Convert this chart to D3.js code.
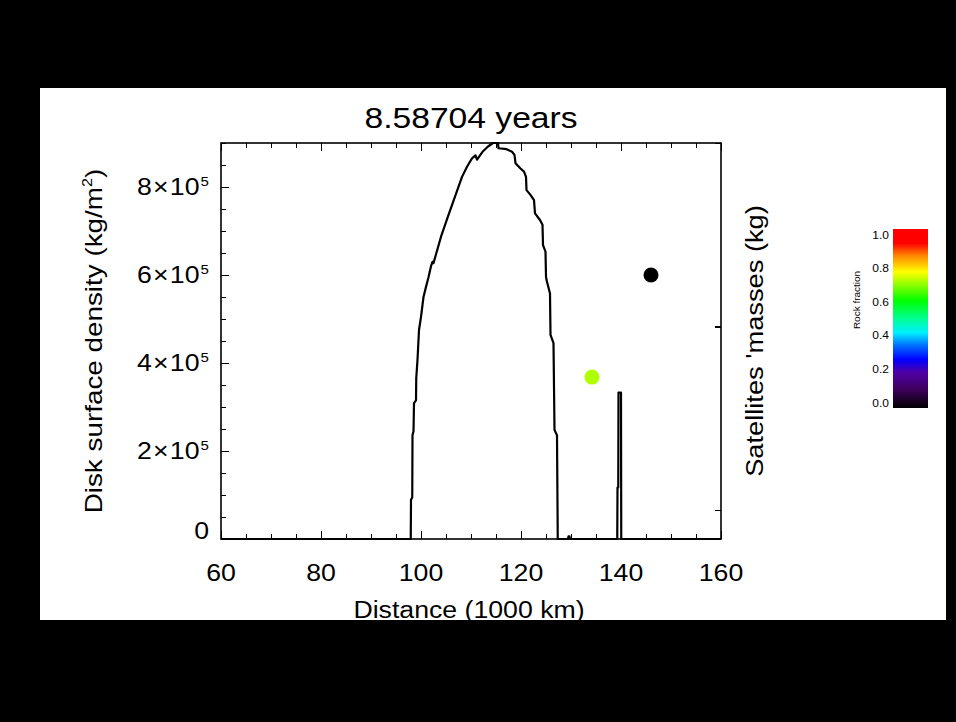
<!DOCTYPE html>
<html>
<head>
<meta charset="utf-8">
<script src="https://cdn.jsdelivr.net/npm/d3@7"></script>
<style>
  html, body { margin: 0; padding: 0; background: #000; }
  svg { display: block; font-family: "Liberation Sans", Arial, Helvetica, sans-serif; }
</style>
</head>
<body>
<div id="chart"></div>
<script>
// Disk profile (distance in 1000 km, surface density in kg/m^2)
const distance = [60, 97.95, 98.0, 98.25, 98.3, 98.5, 98.6, 99.0, 99.05, 99.3, 99.6, 100.0, 100.5, 101.0, 101.5, 102.0, 102.3, 102.5,
  104.0, 105.4, 106.8, 108.2, 109.2, 110.2, 110.9, 111.2, 112.3, 113.4, 114.4, 115.4, 115.5, 117.1, 118.2, 118.7, 118.9, 119.9,
  120.6, 121.0, 121.1, 121.9, 122.6, 122.8, 123.8, 124.3, 124.4, 124.9, 125.0, 125.1, 125.8, 125.9, 126.5, 126.7, 127.2, 127.35,
  129.4, 129.5, 129.7, 129.8, 139.25, 139.3, 139.45, 139.5, 140.0, 140.05, 160];
const density = [0, 0, 8.9e4, 9.5e4, 2.36e5, 2.45e5, 3.09e5, 3.15e5, 3.66e5, 4.07e5, 4.75e5, 5.05e5, 5.5e5, 5.73e5, 5.95e5, 6.2e5, 6.3e5, 6.27e5,
  6.87e5, 7.33e5, 7.78e5, 8.23e5, 8.46e5, 8.65e5, 8.72e5, 8.62e5, 8.8e5, 8.92e5, 9.0e5, 9.0e5, 8.88e5, 8.86e5, 8.8e5, 8.73e5, 8.54e5, 8.42e5,
  8.35e5, 8.23e5, 7.93e5, 7.82e5, 7.7e5, 7.4e5, 7.25e5, 7.14e5, 6.68e5, 6.53e5, 5.96e5, 5.89e5, 5.58e5, 4.64e5, 4.45e5, 2.48e5, 2.36e5, 0,
  0, 6e3, 6e3, 0, 0, 1.17e5, 1.17e5, 3.33e5, 3.33e5, 0, 0];

// Satellites
const satDistance = [146.0, 134.2];
const satMass = [1.91e22, 5.3e21];
const satRock = [0.0, 0.71];

// Ticks and labels
const xMajor = [60, 80, 100, 120, 140, 160];
const xMinor = d3.range(60, 161, 5);
const yMajor = [0, 2e5, 4e5, 6e5, 8e5];
const yMinor = d3.range(0, 9e5 + 1, 5e4);
const yMantissa = ['0', '2', '4', '6', '8'];
const massTicks = [1e21, 1e22, 1e23];
const rockTicks = [0, 0.2, 0.4, 0.6, 0.8, 1.0];

// Colour table for rock fraction
const rockStops = [0, 0.1, 0.2, 0.27, 0.35, 0.42, 0.5, 0.6, 0.76, 0.85, 0.92, 1];
const rockColors = ['#000000', '#3c0058', '#5000a8', '#0000ff', '#0070ff', '#00f0ff', '#00ff90', '#00ff00',
  '#ffff00', '#ff8800', '#ff0000', '#ff0000'];

const W = 956, H = 722;
const plot = { left: 221, right: 721, top: 143, bottom: 539 };
const SX = 1.16; // the original font is wider than Liberation Sans

const svg = d3.select('#chart').append('svg').attr('width', W).attr('height', H);
svg.append('rect').attr('width', W).attr('height', H).attr('fill', '#000');
const defs = svg.append('defs');
defs.append('clipPath').attr('id', 'panel')
  .append('rect').attr('x', 40).attr('y', 88).attr('width', 906).attr('height', 532);

const root = svg.append('g').attr('clip-path', 'url(#panel)');
root.append('rect').attr('x', 40).attr('y', 88).attr('width', 906).attr('height', 532).attr('fill', '#fff');

const x = d3.scaleLinear().domain([60, 160]).range([plot.left, plot.right]);
const y = d3.scaleLinear().domain([0, 9e5]).range([plot.bottom, plot.top]);
const m = d3.scaleLog().domain([Math.pow(10, 20.842), 1e23]).range([plot.bottom, plot.top]);
const rockColor = d3.scaleLinear().domain(rockStops).range(rockColors).interpolate(d3.interpolateRgb);

// wide text helper
function label(g, px, py, size, opts = {}) {
  return g.append('g')
    .attr('transform', `translate(${px},${py}) rotate(${opts.rotate || 0}) scale(${opts.sx || SX},1)`)
    .append('text')
    .attr('text-anchor', opts.anchor || 'middle')
    .attr('font-size', size)
    .attr('fill', '#000');
}

// ticks (inward, no labels)
function ticks(axisFn, scale, values, size, tx, ty) {
  root.append('g')
    .attr('transform', `translate(${tx},${ty})`)
    .call(axisFn(scale).tickValues(values).tickSize(-size).tickSizeOuter(0).tickFormat(''))
    .call(g => g.select('.domain').remove())
    .call(g => g.selectAll('line').attr('stroke', '#000').attr('stroke-width', 1.5).attr('shape-rendering', 'crispEdges'));
}
ticks(d3.axisBottom, x, xMinor, 5, 0, plot.bottom);
ticks(d3.axisBottom, x, xMajor, 8, 0, plot.bottom);
ticks(d3.axisTop, x, xMinor, 5, 0, plot.top);
ticks(d3.axisTop, x, xMajor, 8, 0, plot.top);
ticks(d3.axisLeft, y, yMinor, 5, plot.left, 0);
ticks(d3.axisLeft, y, yMajor, 8, plot.left, 0);
ticks(d3.axisRight, m, massTicks, 6, plot.right, 0);

// disk curve
const line = d3.line().x(d => x(d[0])).y(d => y(d[1]));
root.append('path')
  .datum(d3.zip(distance, density))
  .attr('d', line)
  .attr('fill', 'none')
  .attr('stroke', '#000')
  .attr('stroke-width', 2.2)
  .attr('stroke-linejoin', 'round');

// satellites
root.selectAll('.sat')
  .data(d3.range(satDistance.length))
  .enter()
  .append('circle')
  .attr('class', 'sat')
  .attr('cx', i => x(satDistance[i]))
  .attr('cy', i => m(satMass[i]))
  .attr('r', 7.5)
  .attr('fill', i => rockColor(satRock[i]));

// frame
root.append('rect')
  .attr('x', plot.left).attr('y', plot.top)
  .attr('width', plot.right - plot.left).attr('height', plot.bottom - plot.top)
  .attr('fill', 'none').attr('stroke', '#000').attr('stroke-width', 1.6);

// x tick labels
xMajor.forEach(v => label(root, x(v), 581, 23).text(v));

// y tick labels
yMajor.forEach((v, i) => {
  if (v === 0) {
    label(root, 209, y(v), 23, { anchor: 'end' }).text('0');
    return;
  }
  const t = label(root, 209, y(v) + 8, 23, { anchor: 'end' });
  t.append('tspan').text(yMantissa[i]);
  t.append('tspan').attr('dx', 1).text('\u00d7');
  t.append('tspan').attr('dx', 1).text('10');
  t.append('tspan').attr('dx', 1).attr('dy', -9).attr('font-size', 13).text('5');
});

// titles
label(root, 471, 128, 29).text('8.58704 years');
label(root, 469, 618, 23).text('Distance (1000 km)');
const yt = label(root, 102, 341, 24, { rotate: -90 });
yt.append('tspan').text('Disk surface density (kg/m');
yt.append('tspan').attr('dy', -10).attr('font-size', 14).text('2');
yt.append('tspan').attr('dy', 10).text(')');
label(root, 763, 341, 23.5, { rotate: -90 }).text("Satellites 'masses (kg)");

// colour bar
const cbY = d3.scaleLinear().domain([0, 1]).range([408, 229]);
const cbLabelY = d3.scaleLinear().domain([0, 1]).range([403, 235]);
const grad = defs.append('linearGradient').attr('id', 'rock')
  .attr('gradientUnits', 'userSpaceOnUse')
  .attr('x1', 0).attr('x2', 0).attr('y1', cbY(0)).attr('y2', cbY(1));
grad.selectAll('stop')
  .data(rockStops)
  .enter()
  .append('stop')
  .attr('offset', d => d)
  .attr('stop-color', (d, i) => rockColors[i]);
root.append('rect')
  .attr('x', 893).attr('y', cbY(1))
  .attr('width', 35).attr('height', cbY(0) - cbY(1))
  .attr('fill', 'url(#rock)');
rockTicks.forEach(v => label(root, 889, cbLabelY(v) + 3.5, 10, { anchor: 'end', sx: 1.2 }).text(v.toFixed(1)));
label(root, 860, 300, 9.5, { rotate: -90, sx: 1.05 }).text('Rock fraction');
</script>
</body>
</html>
